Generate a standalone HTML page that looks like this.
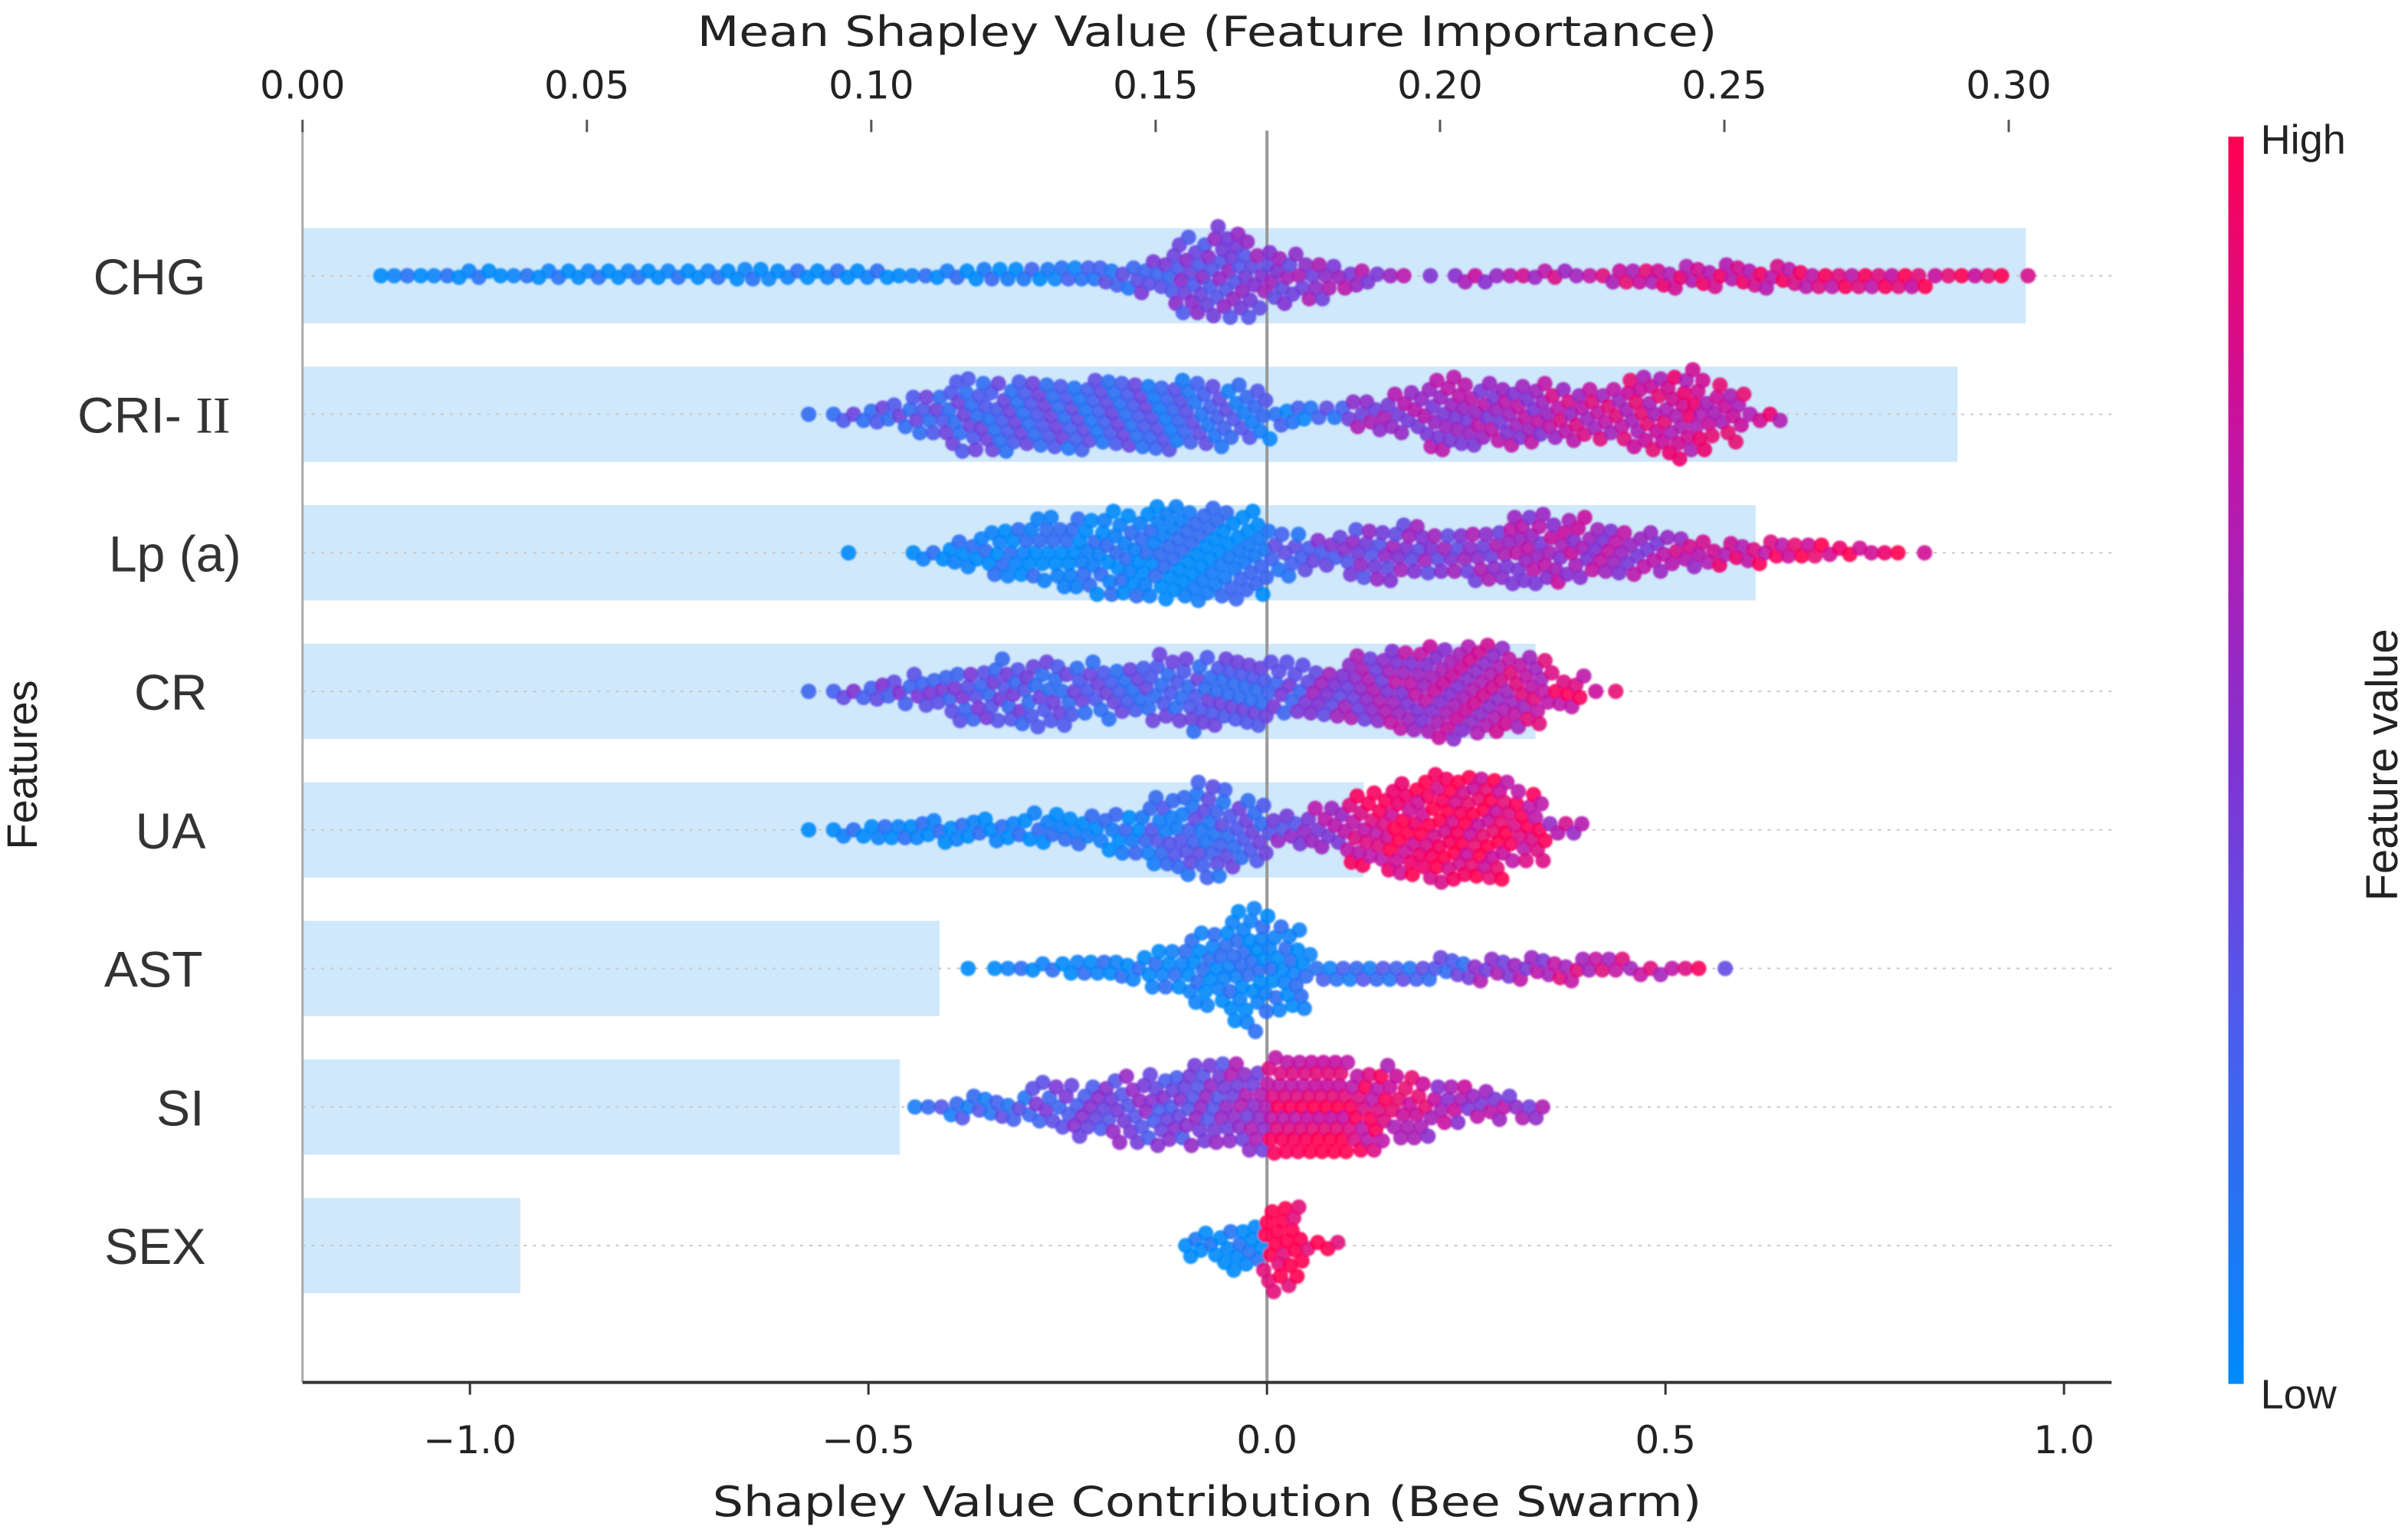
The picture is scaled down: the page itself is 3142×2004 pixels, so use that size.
<!DOCTYPE html>
<html><head><meta charset="utf-8"><style>
html,body{margin:0;padding:0;background:#fff;}
svg{display:block;}
text{font-family:"DejaVu Sans","Liberation Sans",sans-serif;fill:#222;}
.feat{font-family:"Liberation Sans","Noto Sans CJK SC",sans-serif;font-size:33px;fill:#333;}
</style></head><body>
<svg id="chart" width="3142" height="2004" viewBox="0 0 1568 1000" preserveAspectRatio="none" xmlns="http://www.w3.org/2000/svg">
<defs><linearGradient id="cbar" x1="0" y1="1" x2="0" y2="0">
<stop offset="0" stop-color="rgb(0,138,250)"/><stop offset="0.3" stop-color="rgb(80,90,235)"/><stop offset="0.5" stop-color="rgb(130,50,210)"/><stop offset="0.75" stop-color="rgb(195,20,165)"/><stop offset="1" stop-color="rgb(255,0,82)"/></linearGradient>
<filter id="soft" x="-5%" y="-5%" width="110%" height="110%"><feGaussianBlur stdDeviation="0.5"/></filter></defs>
<g id="bars"></g>
<g id="grid"></g>
<line x1="825" y1="85" x2="825" y2="900" stroke="#999" stroke-width="2"/>
<line x1="197" y1="85" x2="197" y2="900" stroke="#aaa" stroke-width="1.5"/>
<g id="dots" filter="url(#soft)"></g>
<line x1="197" y1="900" x2="1375" y2="900" stroke="#333" stroke-width="2"/>
<g id="ticks"></g>
<g id="labels"></g>
<text x="786" y="30" text-anchor="middle" font-size="27" textLength="664" lengthAdjust="spacingAndGlyphs">Mean Shapley Value (Feature Importance)</text>
<text x="786" y="987" text-anchor="middle" font-size="27" textLength="644" lengthAdjust="spacingAndGlyphs">Shapley Value Contribution (Bee Swarm)</text>
<text transform="translate(24,498) rotate(-90)" text-anchor="middle" font-size="28" style="font-family:'Liberation Sans',sans-serif">Features</text>
<rect x="1451" y="89" width="10" height="812" fill="url(#cbar)"/>
<text x="1472" y="100" font-size="27" style="font-family:'Liberation Sans',sans-serif">High</text>
<text x="1472" y="917" font-size="27" style="font-family:'Liberation Sans',sans-serif">Low</text>
<text transform="translate(1561,498) rotate(-90)" text-anchor="middle" font-size="29" style="font-family:'Liberation Sans',sans-serif">Feature value</text>
</svg>
<script>
const features = ["CHG","CRI- ","Lp (a)","CR","UA","AST","SI","SEX"];
const meanImportance = [0.303,0.291,0.2555,0.2168,0.1866,0.112,0.105,0.0383];
const topTicks = [0,0.05,0.10,0.15,0.20,0.25,0.30];
const topTickLabels = ["0.00","0.05","0.10","0.15","0.20","0.25","0.30"];
const bottomTicks = [-1,-0.5,0,0.5,1];
const bottomTickLabels = ["\u22121.0","\u22120.5","0.0","0.5","1.0"];
const binWidth = 0.05;
const binStart = [-1.12,-0.60,-0.55,-0.60,-0.60,-0.40,-0.45,-0.105];
const countsCHG = [3,3,4,3,4,4,4,4,4,5,4,4,4,3,4,5,5,6,7,10,22,26,16,12,7,3,1,4,3,4,3,6,7,7,7,7,6,6,6,3,3,1];
const colorsCHG = [0.03,0.03,0.03,0.03,0.03,0.03,0.03,0.03,0.03,0.03,0.05,0.05,0.05,0.05,0.08,0.1,0.12,0.15,0.25,0.35,0.42,0.45,0.5,0.55,0.6,0.6,0.62,0.65,0.7,0.72,0.75,0.78,0.8,0.82,0.82,0.84,0.86,0.86,0.88,0.9,0.9,0.95];
const countsCRI = [1,4,7,12,21,21,20,21,21,21,18,15,7,5,9,12,21,18,18,15,15,21,24,15,4];
const colorsCRI = [0.3,0.3,0.3,0.3,0.3,0.28,0.3,0.25,0.28,0.22,0.25,0.2,0.15,0.25,0.55,0.58,0.6,0.6,0.62,0.72,0.75,0.78,0.8,0.78,0.8];
const countsLp = [1,0,4,9,15,18,21,24,27,27,24,12,9,15,15,12,15,21,18,15,12,9,7,7,6,4,3,1];
const colorsLp = [0.05,0.05,0.05,0.05,0.05,0.06,0.06,0.06,0.06,0.08,0.1,0.25,0.4,0.45,0.5,0.5,0.55,0.6,0.65,0.62,0.6,0.7,0.8,0.85,0.9,0.92,0.92,0.92];
const countsCR = [1,4,7,10,15,18,18,15,15,18,21,21,15,15,21,24,27,27,21,10,2];
const colorsCR = [0.35,0.38,0.38,0.35,0.35,0.33,0.3,0.3,0.28,0.3,0.3,0.3,0.35,0.5,0.55,0.62,0.65,0.68,0.75,0.85,0.9];
const countsUA = [1,4,6,7,7,7,9,9,12,21,27,18,9,12,21,27,33,33,21,5];
const colorsUA = [0.05,0.05,0.05,0.05,0.05,0.05,0.06,0.08,0.1,0.2,0.25,0.3,0.45,0.6,0.85,0.92,0.95,0.9,0.85,0.7];
const countsAST = [1,3,4,6,7,12,21,33,24,6,6,6,7,7,7,7,6,4,3,1];
const colorsAST = [0.05,0.05,0.05,0.05,0.05,0.05,0.05,0.05,0.05,0.15,0.2,0.25,0.3,0.55,0.6,0.75,0.75,0.75,0.85,0.5];
const countsSI = [3,7,7,12,15,18,21,24,24,30,30,24,18,12,9,6];
const colorsSI = [0.2,0.2,0.25,0.35,0.4,0.45,0.4,0.45,0.55,0.85,0.88,0.85,0.78,0.65,0.6,0.55];
const countsSEX = [8,13,24,4];
const colorsSEX = [0.0,0.02,1,1];
const countsAll = [countsCHG,countsCRI,countsLp,countsCR,countsUA,countsAST,countsSI,countsSEX];
const colorsAll = [colorsCHG,colorsCRI,colorsLp,colorsCR,colorsUA,colorsAST,colorsSI,colorsSEX];

const NS="http://www.w3.org/2000/svg";
function xTop(v){return 197+v/0.05*185.17;}
function xBot(v){return 825+v*519;}
function yRow(i){return 179.5+i*90.2;}
function mk(tag,parent,attrs){const e=document.createElementNS(NS,tag);for(const k in attrs)e.setAttribute(k,attrs[k]);parent.appendChild(e);return e;}
const stops=[[0,[0,138,250]],[0.3,[80,90,235]],[0.5,[130,50,210]],[0.75,[195,20,165]],[1,[255,0,82]]];
function cmap(t){t=Math.max(0,Math.min(1,t));for(let i=1;i<stops.length;i++){if(t<=stops[i][0]){const a=stops[i-1],b=stops[i],f=(t-a[0])/(b[0]-a[0]);const c=a[1].map((v,j)=>Math.round(v+(b[1][j]-v)*f));return `rgb(${c[0]},${c[1]},${c[2]})`;}}return "rgb(255,0,82)";}

const gB=document.getElementById('bars'),gG=document.getElementById('grid'),gD=document.getElementById('dots'),gT=document.getElementById('ticks'),gL=document.getElementById('labels');
const labelEnd=[134,150,157,135,134,132,133,134];
features.forEach((f,i)=>{
  const y=yRow(i);
  const b=mk('rect',gB,{x:197,y:y-31,width:xTop(meanImportance[i])-197,height:62,fill:'#cfe8fb'});
  
  
  const g=mk('line',gG,{x1:197,x2:1375,y1:y,y2:y,stroke:'#c8c8c8','stroke-width':1,'stroke-dasharray':'2,4'});
  
  
  const t=mk('text',gL,{x:labelEnd[i],y:y+12,'text-anchor':'end','class':'feat'});
  t.textContent=f;
  if(i===1){const ts=mk('tspan',t,{style:"font-family:'Liberation Serif',serif",'font-size':'34'});ts.textContent='II';}
  
  
  const pts=[];
  countsAll[i].forEach((n,k)=>{
    const s=binStart[i]+k*binWidth;
    for(let j=0;j<n;j++){
      const v=s+(j+0.5)/n*binWidth;
      const c=colorsAll[i][k]+((j%3)-1)*0.12;
      pts.push([xBot(v),c]);
    }
  });
  pts.sort((a,b)=>a[0]-b[0]);
  const r=5.0,d=7.6,placed=[];
  pts.forEach(p=>{
    let off=0;
    for(let s=0;s<200;s++){
      const cand=(s%2?1:-1)*Math.ceil(s/2)*1.0;
      let ok=true;
      for(let q=placed.length-1;q>=0;q--){const o=placed[q];if(p[0]-o[0]>d)break;const dx=p[0]-o[0],dy=cand-o[1];if(dx*dx+dy*dy<d*d){ok=false;break;}}
      if(ok){off=cand;break;}
    }
    placed.push([p[0],off]);
    const c=mk('circle',gD,{cx:p[0].toFixed(1),cy:(y+off).toFixed(1),r:r,fill:cmap(p[1]),'fill-opacity':0.9});
    
    
  });
});
topTicks.forEach((v,i)=>{
  const x=xTop(v);
  const l=mk('line',gT,{x1:x,x2:x,y1:78,y2:86,stroke:'#555','stroke-width':1.5});
  
  
  const t=mk('text',gT,{x:x,y:64,'text-anchor':'middle','font-size':25});
  t.textContent=topTickLabels[i];
  
  
});
bottomTicks.forEach((v,i)=>{
  const x=xBot(v);
  const l=mk('line',gT,{x1:x,x2:x,y1:900,y2:908,stroke:'#333','stroke-width':1.5});
  
  
  const t=mk('text',gT,{x:x,y:946,'text-anchor':'middle','font-size':25});
  t.textContent=bottomTickLabels[i];
  
  
});
</script>
</body></html>
